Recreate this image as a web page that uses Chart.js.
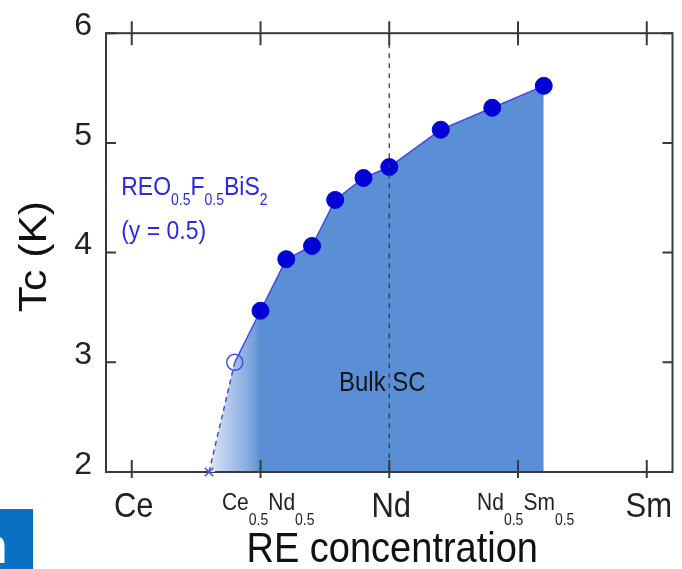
<!DOCTYPE html>
<html>
<head>
<meta charset="utf-8">
<script src="https://cdn.jsdelivr.net/npm/chart.js@4.4.1/dist/chart.umd.min.js"></script>
<style>
  html, body { margin: 0; padding: 0; background: #fff; overflow: hidden; }
  #wrap { position: relative; width: 682px; height: 569px; }
  #badge { position: absolute; left: 0; top: 509px; width: 33px; height: 60px; background: #0a70c2; overflow: hidden; }
  #badge span { position: absolute; left: -23px; top: 12px; font: bold 50px/50px "Liberation Sans", Arial, sans-serif; color: #fff; }
</style>
</head>
<body>
<div id="wrap">
  <canvas id="c" width="682" height="569"></canvas>
  <div id="badge"><span>h</span></div>
</div>
<script>
// Composition axis: 0 = Ce, 1 = Nd, 2 = Sm
const compPositions = [0, 0.5, 1, 1.5, 2];
const compLabels = ['Ce', 'Ce_{0.5}Nd_{0.5}', 'Nd', 'Nd_{0.5}Sm_{0.5}', 'Sm'];
const tcTicks = [2, 3, 4, 5, 6];

// Measured Tc for each composition
const xComp = [0.30, 0.40, 0.50, 0.60, 0.70, 0.79, 0.90, 1.00, 1.20, 1.40, 1.60];
const tcK   = [2.00, 3.00, 3.47, 3.94, 4.06, 4.48, 4.68, 4.78, 5.12, 5.32, 5.52];
// 'none' = no SC above 2 K, 'onset' = filamentary, 'bulk' = bulk SC
const scKind = ['none', 'onset', 'bulk', 'bulk', 'bulk', 'bulk', 'bulk', 'bulk', 'bulk', 'bulk', 'bulk'];

const FONT = '"Liberation Sans", Arial, sans-serif';
const STRETCH = 1.12;

// Draw text with _{...} subscripts
function drawRich(ctx, str, x, y, o) {
  const parts = [];
  const re = /_\{([^}]*)\}/g;
  let last = 0, m;
  while ((m = re.exec(str)) !== null) {
    if (m.index > last) parts.push({ t: str.slice(last, m.index), sub: false });
    parts.push({ t: m[1], sub: true });
    last = re.lastIndex;
  }
  if (last < str.length) parts.push({ t: str.slice(last), sub: false });
  parts.forEach(p => {
    ctx.font = (p.sub ? o.subSize : o.size) + 'px ' + FONT;
    p.w = ctx.measureText(p.t).width;
  });
  let total = parts.reduce((s, p) => s + p.w, 0);
  const tail = parts[parts.length - 1];
  if (tail.sub) total -= tail.w;
  let cx = o.align === 'center' ? x - total / 2 : x;
  ctx.save();
  ctx.fillStyle = o.color;
  ctx.textBaseline = 'alphabetic';
  ctx.textAlign = 'left';
  parts.forEach(p => {
    ctx.font = (p.sub ? o.subSize : o.size) + 'px ' + FONT;
    ctx.save();
    ctx.translate(cx, y + (p.sub ? o.subDrop : 0));
    ctx.scale(1, STRETCH);
    ctx.fillText(p.t, 0, 0);
    ctx.restore();
    cx += p.w;
  });
  ctx.restore();
}

const decorations = {
  id: 'decorations',
  beforeDatasetsDraw(chart) {
    const { ctx, chartArea: a } = chart;
    ctx.save();
    // frame
    ctx.strokeStyle = '#3a3a3a';
    ctx.lineWidth = 2;
    ctx.strokeRect(a.left, a.top, a.right - a.left, a.bottom - a.top);
    ctx.restore();
  },
  afterDatasetsDraw(chart) {
    const { ctx, chartArea: a, scales: { x, y } } = chart;
    ctx.save();
    // dashed guide at pure Nd
    const xn = x.getPixelForValue(1);
    ctx.strokeStyle = '#333';
    ctx.lineWidth = 1.2;
    ctx.setLineDash([5, 5]);
    ctx.beginPath();
    ctx.moveTo(xn, a.top);
    ctx.lineTo(xn, a.bottom);
    ctx.stroke();
    ctx.setLineDash([]);

    // bottom edge over the shading, leaving the first marker visible
    ctx.strokeStyle = '#3a3a3a';
    ctx.lineWidth = 2;
    ctx.beginPath();
    ctx.moveTo(a.left, a.bottom); ctx.lineTo(x.getPixelForValue(xComp[0]) - 6, a.bottom);
    ctx.moveTo(x.getPixelForValue(xComp[0]) + 6, a.bottom); ctx.lineTo(a.right, a.bottom);
    ctx.stroke();

    // ticks
    ctx.beginPath();
    x.ticks.forEach(t => {
      const px = x.getPixelForValue(t.value);
      ctx.moveTo(px, a.bottom + 6); ctx.lineTo(px, a.bottom - 12);
      ctx.moveTo(px, a.top - 12);   ctx.lineTo(px, a.top + 12);
    });
    y.ticks.forEach(t => {
      const py = y.getPixelForValue(t.value);
      ctx.moveTo(a.left, py);  ctx.lineTo(a.left + 10, py);
      ctx.moveTo(a.right, py); ctx.lineTo(a.right - 10, py);
    });
    ctx.stroke();
    ctx.restore();
  },
  afterDraw(chart) {
    const { ctx, chartArea: a, scales: { x, y } } = chart;
    // composition labels
    x.ticks.forEach((t, i) => {
      const label = compLabels[i];
      const px = x.getPixelForValue(t.value);
      if (label.indexOf('_') >= 0) {
        drawRich(ctx, label, px - 2, a.bottom + 38, { size: 21, subSize: 14, subDrop: 15, color: '#222', align: 'center' });
      } else {
        drawRich(ctx, label, px + 2, a.bottom + 45, { size: 31, subSize: 20, subDrop: 10, color: '#222', align: 'center' });
      }
    });

    // axis titles
    drawRich(ctx, 'RE concentration', (a.left + a.right) / 2 + 3, 562, { size: 38, subSize: 24, subDrop: 10, color: '#111', align: 'center' });
    ctx.save();
    ctx.translate(36, (a.top + a.bottom) / 2 + 4);
    ctx.rotate(-Math.PI / 2);
    ctx.scale(STRETCH, 1);
    ctx.font = '38px ' + FONT;
    ctx.fillStyle = '#111';
    ctx.textAlign = 'center';
    ctx.textBaseline = 'middle';
    ctx.fillText('Tc (K)', 0, 0);
    ctx.restore();

    // annotations
    const blue = '#2a2ae0';
    drawRich(ctx, 'REO_{0.5}F_{0.5}BiS_{2}', x.getPixelForValue(-0.041), y.getPixelForValue(4.525),
      { size: 23, subSize: 14, subDrop: 10, color: blue, align: 'left' });
    drawRich(ctx, '(y = 0.5)', x.getPixelForValue(-0.041), y.getPixelForValue(4.127),
      { size: 23, subSize: 14, subDrop: 10, color: blue, align: 'left' });
    drawRich(ctx, 'Bulk SC', x.getPixelForValue(0.973), y.getPixelForValue(2.74),
      { size: 24, subSize: 14, subDrop: 10, color: '#151515', align: 'center' });
  }
};

const points = xComp.map((v, i) => ({ x: v, y: tcK[i] }));
const markerRadius = scKind.map(k => (k === 'none' ? 6 : k === 'onset' ? 8 : 8.5));

new Chart(document.getElementById('c'), {
  type: 'line',
  data: {
    datasets: [
      {
        // shaded superconducting region under the Tc curve (drawn underneath)
        order: 2,
        data: points,
        borderWidth: 0,
        borderColor: 'rgba(0,0,0,0)',
        pointRadius: 0,
        pointHoverRadius: 0,
        tension: 0,
        fill: 'start',
        backgroundColor: (c) => {
          const ch = c.chart;
          if (!ch.chartArea) return '#5a8ed5';
          const xs = ch.scales.x;
          const g = ch.ctx.createLinearGradient(xs.getPixelForValue(xComp[0]) - 4, 0, xs.getPixelForValue(xComp[2]), 0);
          g.addColorStop(0, '#e6edf8');
          g.addColorStop(0.85, '#7ba4dd');
          g.addColorStop(1, '#5a8ed5');
          return g;
        }
      },
      {
        // Tc curve with markers
        order: 1,
        clip: false,
        data: points,
        borderColor: '#4848e4',
        borderWidth: 1.5,
        tension: 0,
        fill: false,
        segment: { borderDash: s => (scKind[s.p0DataIndex] === 'none' ? [5, 4] : undefined) },
        pointStyle: scKind.map(k => (k === 'none' ? 'crossRot' : 'circle')),
        pointRadius: markerRadius,
        pointHoverRadius: markerRadius,
        pointBackgroundColor: scKind.map(k => (k === 'bulk' ? '#0000d4' : 'rgba(0,0,0,0)')),
        pointBorderColor: scKind.map(k => (k === 'bulk' ? '#0000d4' : '#4a4ae8')),
        pointBorderWidth: scKind.map(k => (k === 'bulk' ? 1 : 1.5))
      }
    ]
  },
  options: {
    responsive: false,
    animation: false,
    layout: { padding: { top: 30, right: 6, left: 0, bottom: 0 } },
    plugins: { legend: { display: false }, tooltip: { enabled: false } },
    scales: {
      x: {
        type: 'linear',
        min: -0.1,
        max: 2.1,
        afterBuildTicks: s => { s.ticks = compPositions.map(v => ({ value: v })); },
        afterFit: s => { s.height = 97; },
        ticks: { display: false },
        grid: { display: false },
        border: { display: false }
      },
      y: {
        min: 2,
        max: 6,
        afterBuildTicks: s => { s.ticks = tcTicks.map(v => ({ value: v })); },
        afterFit: s => { s.width = 106; },
        ticks: {
          font: { family: FONT, size: 32 },
          color: '#222',
          padding: 14,
          labelOffset: -7,
          callback: v => String(v)
        },
        grid: { display: false, drawTicks: false },
        border: { display: false }
      }
    }
  },
  plugins: [decorations]
});
</script>
</body>
</html>
